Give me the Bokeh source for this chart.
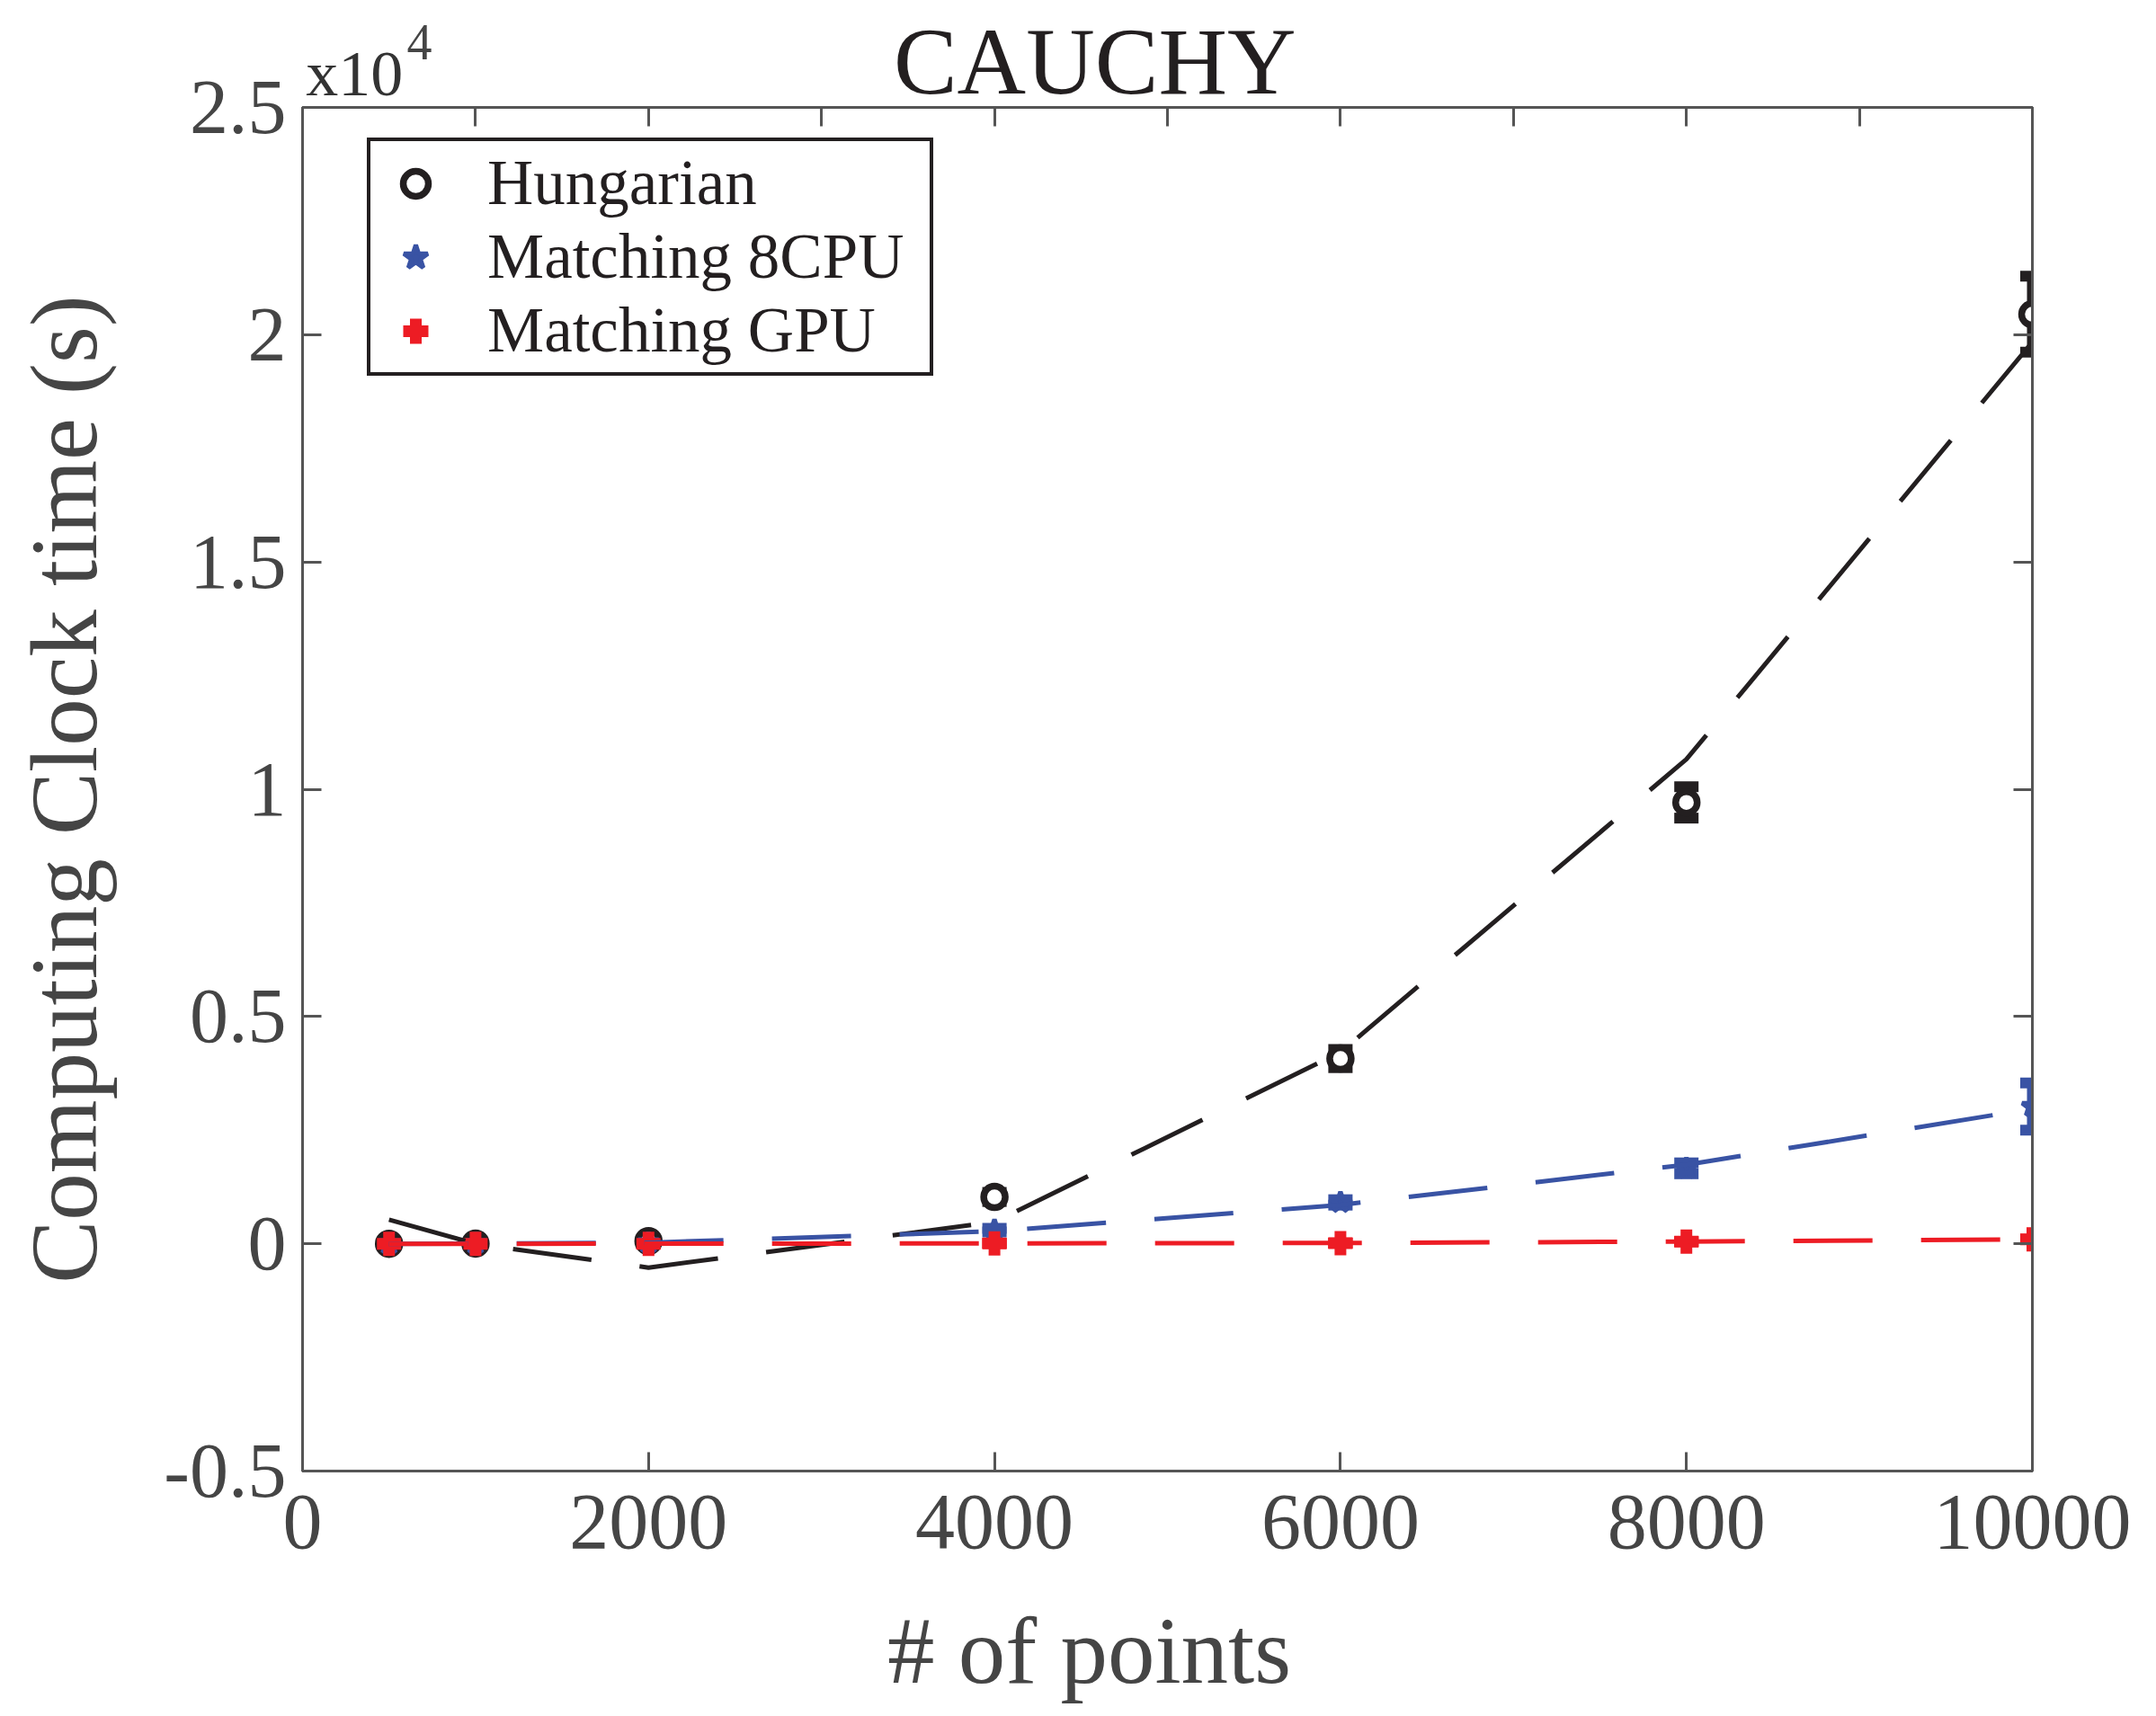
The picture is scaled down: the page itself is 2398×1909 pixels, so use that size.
from bokeh.plotting import figure
from bokeh.models import (Range1d, LinearAxis, FixedTicker, Whisker, TeeHead,
                          ColumnDataSource, Label, Legend, LegendItem)
from bokeh.embed import file_html
from bokeh.resources import INLINE

# ---------------- data ----------------
n_points = [500, 1000, 2000, 4000, 6000, 8000, 10000]

hungarian = [0, 5, 60, 1030, 4075, 9710, 20450]
hungarian_err = [0, 0, 30, 100, 200, 345, 835]
hungarian_fit = [530, 0, -525, 480, 4215, 10660, 19840]

cpu8 = [0, 5, 20, 300, 910, 1660, 3020]
cpu8_err = [0, 0, 0, 40, 60, 120, 520]
cpu8_fit = [0, 5, 25, 275, 855, 1740, 2970]

gpu = [0, 0, 0, 10, 15, 48, 98]
gpu_err = [0, 0, 0, 0, 0, 0, 0]
gpu_fit = [0, 0, 2, 8, 18, 48, 98]

series_names = ["Hungarian", "Matching 8CPU", "Matching GPU"]

x_ticks = [0, 2000, 4000, 6000, 8000, 10000]
x_top_ticks = [0, 1000, 2000, 3000, 4000, 5000, 6000, 7000, 8000, 9000, 10000]
y_ticks = [-5000, 0, 5000, 10000, 15000, 20000, 25000]
y_tick_labels = ["-0.5", "0", "0.5", "1", "1.5", "2", "2.5"]
title_text = "CAUCHY"
x_label = "# of points"
y_label = "Computing Clock time (s)"
exp_base = "x10"
exp_power = "4"

# ---------------- styling ----------------
FONT = "Liberation Serif"
AX = "#555555"
TXT = "#454545"
BLACK = "#231f20"
BLUE = "#3953a4"
RED = "#ed1c24"

p = figure(width=2397, height=1901, output_backend="svg", toolbar_location=None,
           x_range=Range1d(0, 10000), y_range=Range1d(-5000, 25000),
           min_border_left=336, min_border_right=137, min_border_top=119,
           min_border_bottom=265, y_axis_label=y_label)
p.grid.visible = False
p.background_fill_color = "white"
p.border_fill_color = "white"
p.outline_line_color = AX
p.outline_line_width = 3

for ax in (p.xaxis[0], p.yaxis[0]):
    ax.axis_line_color = AX
    ax.axis_line_width = 3
    ax.major_tick_line_color = AX
    ax.major_tick_line_width = 3
    ax.major_tick_in = 21
    ax.major_tick_out = 0
    ax.minor_tick_line_color = None
    ax.major_label_text_font = FONT
    ax.major_label_text_color = TXT
    ax.axis_label_text_font = FONT
    ax.axis_label_text_font_size = "105px"
    ax.axis_label_text_font_style = "normal"
    ax.axis_label_text_color = TXT

p.xaxis[0].ticker = FixedTicker(ticks=x_ticks)
p.xaxis[0].major_label_text_font_size = "88px"
p.xaxis[0].major_label_standoff = 27
p.yaxis[0].ticker = FixedTicker(ticks=y_ticks)
p.yaxis[0].major_label_overrides = {t: l for t, l in zip(y_ticks, y_tick_labels)}
p.yaxis[0].major_label_text_font_size = "86px"
p.yaxis[0].major_label_standoff = 18
p.yaxis[0].axis_label_standoff = 49

top_axis = LinearAxis(ticker=FixedTicker(ticks=x_top_ticks))
right_axis = LinearAxis(ticker=FixedTicker(ticks=y_ticks))
for ax in (top_axis, right_axis):
    ax.axis_line_color = AX
    ax.axis_line_width = 3
    ax.major_tick_line_color = AX
    ax.major_tick_line_width = 3
    ax.major_tick_in = 21
    ax.major_tick_out = 0
    ax.minor_tick_line_color = None
    ax.major_label_text_color = None
    ax.major_label_text_font_size = "0px"
    ax.major_label_standoff = 0
p.add_layout(top_axis, "above")
p.add_layout(right_axis, "right")

# ---------------- error bars + markers ----------------
def err_source(y, e):
    return ColumnDataSource(dict(x=n_points, y=y,
                                 lo=[a - b for a, b in zip(y, e)],
                                 hi=[a + b for a, b in zip(y, e)]))

renderers = []
specs = [
    (hungarian, hungarian_err, BLACK, dict(marker="circle", size=24, line_width=7.5,
                                           line_color=BLACK, fill_color="white")),
    (cpu8, cpu8_err, BLUE, dict(marker="star", size=24, line_width=5,
                                line_color=BLUE, fill_color=BLUE)),
    (gpu, gpu_err, RED, dict(marker="cross", size=27, line_width=13,
                             line_color=RED, fill_color=RED)),
]
for y, e, col, mk in specs:
    src = err_source(y, e)
    w = Whisker(source=src, base="x", lower="lo", upper="hi", dimension="height",
                line_color=col, line_width=12, level="underlay",
                upper_head=TeeHead(size=27, line_width=12, line_color=col),
                lower_head=TeeHead(size=27, line_width=12, line_color=col))
    p.add_layout(w)
    r = p.scatter("x", "y", source=src, **mk)
    renderers.append(r)

# ---------------- fitted dashed curves ----------------
for fit, col in ((hungarian_fit, BLACK), (cpu8_fit, BLUE), (gpu_fit, RED)):
    p.line(n_points, fit, line_color=col, line_width=5, line_dash="88 54")

# ---------------- legend ----------------
legend = Legend(items=[LegendItem(label=n, renderers=[r]) for n, r in zip(series_names, renderers)],
                location=(72, 1218), label_text_font=FONT, label_text_font_size="71px",
                label_text_color=BLACK, glyph_width=88, glyph_height=70,
                label_standoff=36, label_width=486, padding=6, spacing=1, margin=0,
                border_line_color=BLACK, border_line_width=4, border_line_alpha=1,
                background_fill_color="white", background_fill_alpha=1)
p.add_layout(legend)

# ---------------- texts outside the frame (side panels, so not clipped) ----------------
p.add_layout(Label(x=4580, y=26009, text=title_text, text_font=FONT,
                   text_font_size="106px", text_align="center",
                   text_baseline="middle", text_color=BLACK), "above")
p.add_layout(Label(x=20, y=25751, text=exp_base, text_font=FONT,
                   text_font_size="72px", text_align="left",
                   text_baseline="middle", text_color="#333333"), "right")
p.add_layout(Label(x=603, y=26424, text=exp_power, text_font=FONT,
                   text_font_size="56px", text_align="left",
                   text_baseline="middle", text_color=TXT), "right")
p.add_layout(Label(x=4548, y=-8959, text=x_label, text_font=FONT,
                   text_font_size="105px", text_align="center",
                   text_baseline="middle", text_color=TXT), "below")

open("out.html", "w").write(file_html(p, INLINE))
